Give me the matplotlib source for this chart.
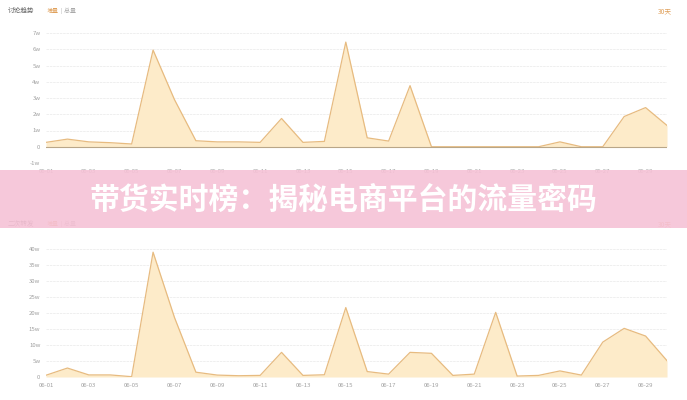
import matplotlib
matplotlib.use("Agg")
import matplotlib.pyplot as plt
from matplotlib.patches import Rectangle

plt.rcParams['font.family'] = ['Noto Sans CJK SC', 'DejaVu Sans']

# 30 days in June, values in units of w (10k)
days = ['06-%02d' % d for d in range(1, 31)]
top_values = [0.27, 0.47, 0.3, 0.25, 0.17, 5.95, 2.9, 0.37, 0.3, 0.3,
              0.27, 1.74, 0.27, 0.33, 6.44, 0.55, 0.35, 3.76, 0.0, 0.0,
              0.0, 0.0, 0.0, 0.0, 0.3, 0.0, 0.0, 1.86, 2.41, 1.31]
bottom_values = [0.55, 2.8, 0.65, 0.65, 0.1, 39.0, 18.6, 1.5, 0.6, 0.4,
                 0.5, 7.7, 0.5, 0.7, 21.7, 1.7, 0.9, 7.7, 7.4, 0.5,
                 0.9, 20.2, 0.3, 0.5, 1.9, 0.6, 10.9, 15.2, 12.8, 5.1]
top_yticks = [-1, 0, 1, 2, 3, 4, 5, 6, 7]
bottom_yticks = [0, 5, 10, 15, 20, 25, 30, 35, 40]

title = '带货实时榜：揭秘电商平台的流量密码'
top_header = '讨论趋势'
bottom_header = '二次转发'

fill_color = '#fdebc9'
line_color = '#e7bb80'
grid_color = '#ececec'
label_color = '#a0a0a0'
orange = '#e0a15c'

W, H = 687, 400
fig = plt.figure(figsize=(W / 100, H / 100), dpi=100)


def wlabel(v):
    return '0' if v == 0 else '%dw' % v


def draw_panel(ax, values, yticks, zero_line):
    x = list(range(len(values)))
    ax.fill_between(x, 0, values, color=fill_color, linewidth=0, zorder=2)
    ax.plot(x, values, color=line_color, linewidth=0.9, zorder=3)
    ax.set_xlim(0, len(values) - 1)
    ax.set_ylim(yticks[0], yticks[-1])
    ax.set_yticks(yticks)
    ax.set_yticklabels([wlabel(v) for v in yticks])
    ax.set_xticks(x[::2])
    ax.set_xticklabels(days[::2])
    for v in yticks[1:]:
        ax.axhline(v, color=grid_color, linewidth=0.6, linestyle=(0, (3, 1)), zorder=1)
    ax.axhline(yticks[0], color='#dddddd', linewidth=0.7, zorder=1)
    if zero_line:
        ax.axhline(0, color='#b9a688', linewidth=0.8, zorder=4)
    for s in ax.spines.values():
        s.set_visible(False)
    ax.tick_params(length=0, labelsize=4.3, labelcolor=label_color, pad=4)


ax1 = fig.add_axes([46 / W, 1 - 163 / H, 621 / W, 130 / H])
draw_panel(ax1, top_values, top_yticks, True)

ax2 = fig.add_axes([46 / W, 1 - 377 / H, 621 / W, 128 / H])
draw_panel(ax2, bottom_values, bottom_yticks, False)


def header(y, name):
    fig.text(8 / W, 1 - y / H, name, fontsize=4.8, color='#666666', va='center')
    fig.text(47 / W, 1 - y / H, '增量', fontsize=4.3, color=orange, va='center')
    fig.text(61 / W, 1 - y / H, '| 总量', fontsize=4.3, color='#aaaaaa', va='center')
    fig.text(672 / W, 1 - y / H, '30天', fontsize=4.8, color=orange, va='center', ha='right')


header(11, top_header)
header(224, bottom_header)

# pink banner over the middle
fig.add_artist(Rectangle((0, 1 - 228 / H), 1, 58 / H, transform=fig.transFigure,
                         facecolor='#f6c2d6', alpha=0.9, edgecolor='none', zorder=10))
fig.text(0.5, 1 - 200 / H, title, fontsize=21.5, fontweight='bold', color='white',
         ha='center', va='center', zorder=11)

fig.savefig('out.png', dpi=100)
